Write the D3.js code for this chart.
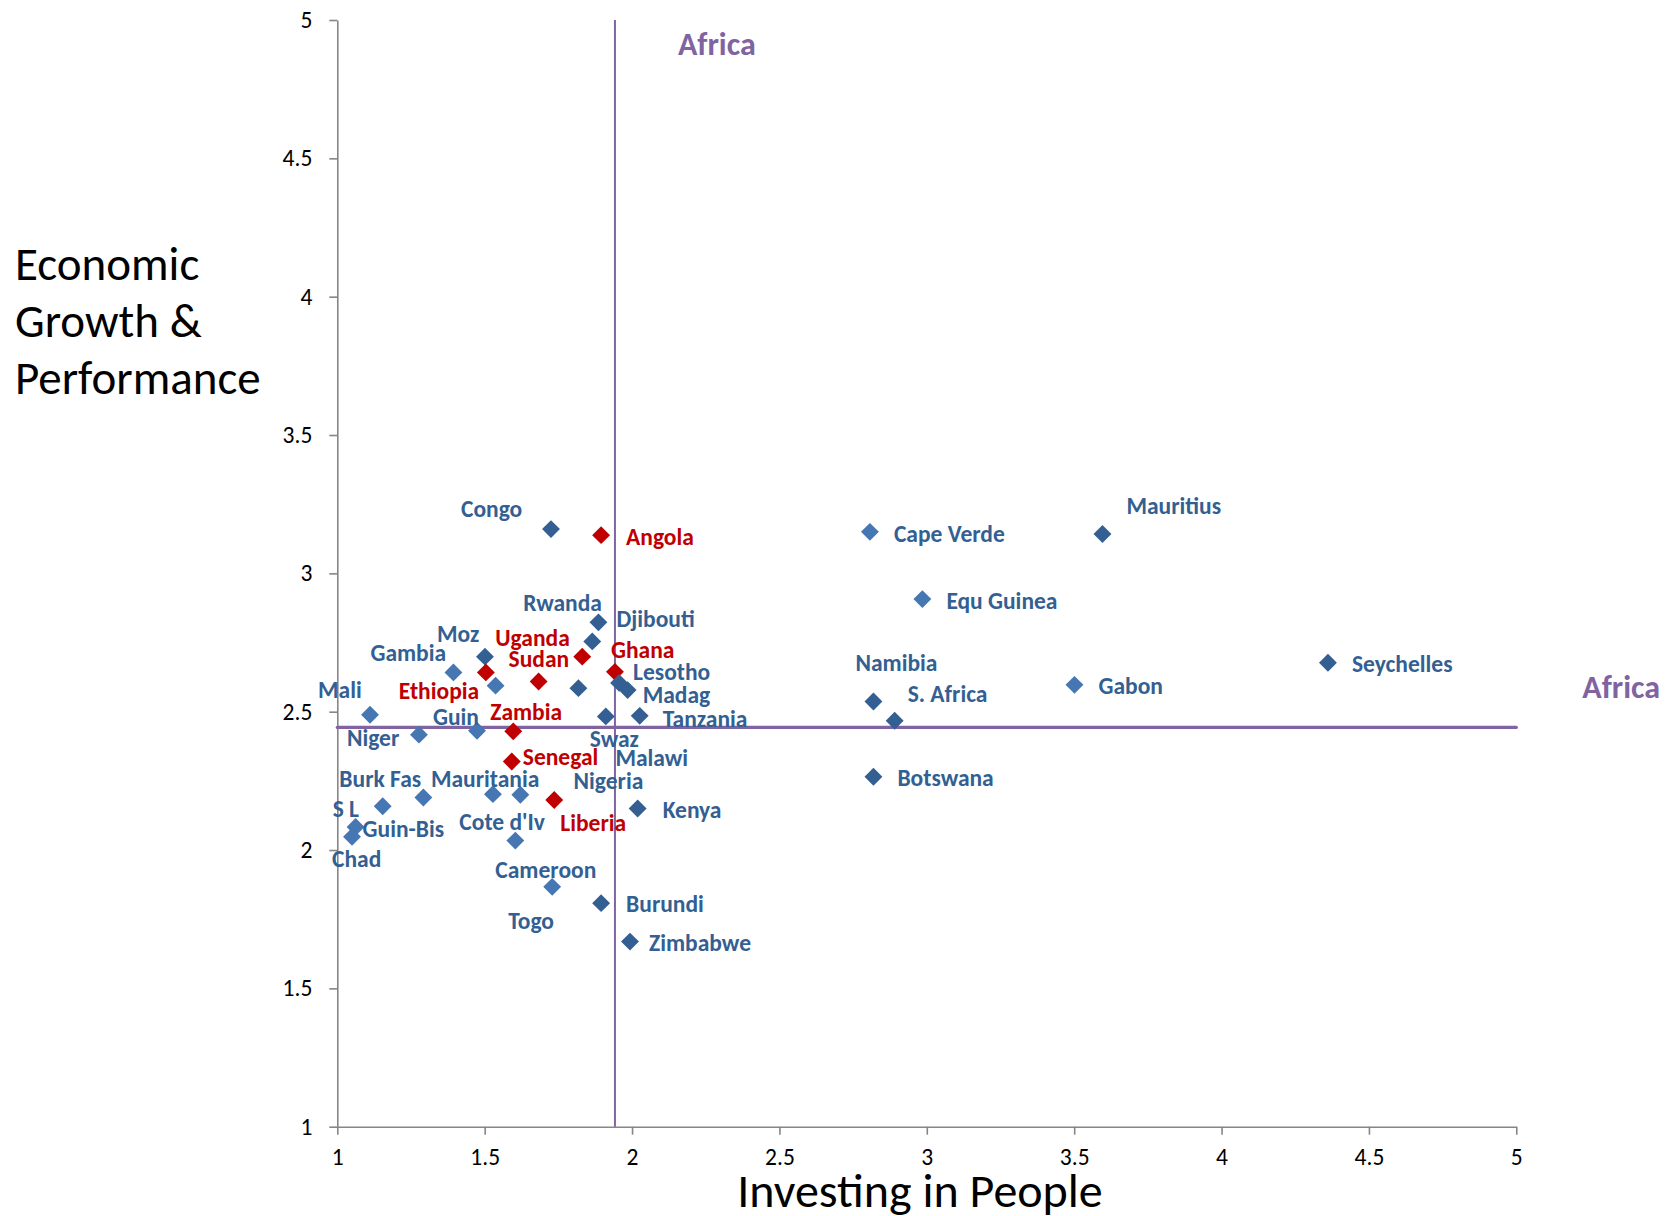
<!DOCTYPE html>
<html>
<head>
<meta charset="utf-8">
<script src="https://cdn.jsdelivr.net/npm/d3@7"></script>
<style>
  html, body { margin: 0; padding: 0; background: #fff; }
  svg { display: block; font-family: Carlito, Calibri, Lato, sans-serif; }
</style>
</head>
<body>
<svg id="chart" width="1665" height="1216"></svg>
<script>
// ---- data ----
const countries = ["Congo","Angola","Djibouti","Rwanda","Uganda","Moz","Gambia","Ethiopia","Nigeria","Sudan",
  "Malawi","Ghana","Lesotho","Madag","Mali","Swaz","Tanzania","Zambia","Guin","Niger","Senegal","Burk Fas",
  "S L","Mauritania","Cote d'Iv","Liberia","Kenya","Guin-Bis","Chad","Cameroon","Togo","Burundi","Zimbabwe",
  "Cape Verde","Mauritius","Equ Guinea","Namibia","S. Africa","Gabon","Botswana","Seychelles"];
const investingInPeople = [1.725,1.895,1.886,1.865,1.831,1.501,1.394,1.504,1.537,1.683,
  1.818,1.942,1.956,1.985,1.111,1.911,2.026,1.597,1.474,1.277,1.592,1.292,
  1.154,1.528,1.621,1.736,2.019,1.062,1.050,1.604,1.729,1.895,1.993,
  2.807,3.596,2.985,2.819,2.891,3.501,2.819,4.361];
const economicGrowth = [3.160,3.138,2.823,2.754,2.699,2.699,2.642,2.642,2.594,2.609,
  2.585,2.644,2.604,2.578,2.489,2.483,2.485,2.429,2.431,2.417,2.320,2.190,
  2.158,2.202,2.200,2.181,2.150,2.083,2.048,2.034,1.867,1.808,1.669,
  3.150,3.142,2.907,2.537,2.467,2.597,2.265,2.677];
// series membership: "A" = dark blue series, "B" = light blue series, "F" = focus countries (red)
const series = ["A","F","A","A","F","A","B","F","B","F",
  "A","F","A","A","B","A","A","F","B","B","F","B",
  "B","B","B","F","A","B","B","B","B","A","A",
  "B","A","B","A","A","B","A","A"];
const xTicks = [1,1.5,2,2.5,3,3.5,4,4.5,5];
const yTicks = [1,1.5,2,2.5,3,3.5,4,4.5,5];
const africaAvgX = 1.942;
const africaAvgY = 2.443;
const xTitle = "Investing in People";
const yTitleLines = ["Economic","Growth &","Performance"];
const refLabel = "Africa";

// label placement offsets (pixels, relative to marker)
const labelDx = [-90,25,18,-69,-87,-48,-83,-87,78,-30,
  37,-4,14,15,-52,-16,23,-23,-44,-72,11,-84,
  -50,-62,-61,6,25,7,-20,-20,-44,25,19,
  24,24,24,-18,13,24,24,24];
const labelDy = [-20,2,-4,-39,-19,-23,-20,18,95,-23,
  70,-22,-11,5,-25,22,3,-20,-14,3,-5,-19,
  2,-15,27,23,1,2,22,29,34,1,1,
  2,-28,2,-39,-27,1,1,1];

const colors = { A: "#335f92", B: "#4677b2", F: "#c00000" };
const labelColors = { A: "#335f92", B: "#335f92", F: "#c00000" };
const refColor = "#8064a2";

// ---- chart ----
const svg = d3.select("#chart");
const x = d3.scaleLinear().domain([1,5]).range([337.3,1516.3]);
const y = d3.scaleLinear().domain([1,5]).range([1126.7,20]);

const fmt = d => String(d);

// axes
const xAxis = svg.append("g").attr("transform", `translate(0,${y(1)})`)
  .call(d3.axisBottom(x).tickValues(xTicks).tickFormat(fmt).tickSize(8).tickPadding(14).tickSizeOuter(0));
const yAxis = svg.append("g").attr("transform", `translate(${x(1)},0)`)
  .call(d3.axisLeft(y).tickValues(yTicks).tickFormat(fmt).tickSize(8).tickPadding(17).tickSizeOuter(0));
[xAxis, yAxis].forEach(g => {
  g.select(".domain").attr("stroke", "#868686").attr("stroke-width", 1.6);
  g.selectAll(".tick line").attr("stroke", "#868686").attr("stroke-width", 1.6);
  g.selectAll(".tick text").attr("fill", "#000").style("font-size", "23.5px")
   .style("font-family", "Carlito, Calibri, Lato, sans-serif");
});

// reference lines
svg.append("line")
  .attr("x1", x(africaAvgX)).attr("x2", x(africaAvgX))
  .attr("y1", y(5)).attr("y2", y(1))
  .attr("stroke", refColor).attr("stroke-width", 2);
svg.append("line")
  .attr("x1", x(1)).attr("x2", x(5))
  .attr("y1", y(africaAvgY)).attr("y2", y(africaAvgY))
  .attr("stroke", refColor).attr("stroke-width", 3.2).attr("stroke-linecap", "round");

svg.append("text").attr("x", x(africaAvgX) + 63).attr("y", 55)
  .attr("fill", refColor).style("font-size", "32px").style("font-weight", "bold").text(refLabel);
svg.append("text").attr("x", x(5) + 66).attr("y", y(africaAvgY) - 29)
  .attr("fill", refColor).style("font-size", "32px").style("font-weight", "bold").text(refLabel);

// points
const data = countries.map((c, i) => ({
  name: c, xv: investingInPeople[i], yv: economicGrowth[i], s: series[i], dx: labelDx[i], dy: labelDy[i]
}));
const diamond = d3.symbol().type(d3.symbolSquare).size(160);
svg.append("g").selectAll("path").data(data).join("path")
  .attr("d", diamond)
  .attr("transform", d => `translate(${x(d.xv)},${y(d.yv)}) rotate(45)`)
  .attr("fill", d => colors[d.s]);

svg.append("g").selectAll("text").data(data).join("text")
  .attr("x", d => x(d.xv) + d.dx)
  .attr("y", d => y(d.yv) + d.dy)
  .attr("dy", "0.35em")
  .attr("fill", d => labelColors[d.s])
  .style("font-size", "23.5px").style("font-weight", "bold")
  .text(d => d.name);

// axis titles
svg.append("text").attr("x", 920).attr("y", 1207)
  .attr("text-anchor", "middle").attr("fill", "#000")
  .style("font-size", "48px").text(xTitle);
svg.append("g").selectAll("text").data(yTitleLines).join("text")
  .attr("x", 15).attr("y", (d, i) => 280 + i * 57)
  .attr("fill", "#000").style("font-size", "47px").text(d => d);
</script>
</body>
</html>
